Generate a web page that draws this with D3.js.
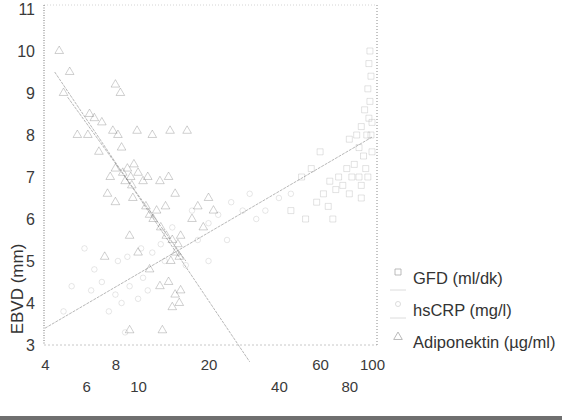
<!DOCTYPE html>
<html>
<head>
<meta charset="utf-8">
<script src="https://cdn.jsdelivr.net/npm/d3@7"></script>
<style>
  body { margin: 0; background: #fff; }
  svg { display: block; font-family: "Liberation Sans", Arial, sans-serif; }
</style>
</head>
<body>
<div id="chart"></div>
<script>
// x tick labels (log axis), y tick labels
const xTicks = [4, 6, 8, 10, 20, 40, 60, 80, 100];
const xTicksLower = [6, 10, 40, 80]; // printed on the second row
const yTicks = [3, 4, 5, 6, 7, 8, 9, 10, 11];

// GFD (ml/dk) - squares
const gfdX = [98, 97, 99, 96, 98, 93, 97, 100, 90, 95, 86, 80, 88, 92, 84, 78, 94, 72, 82, 88, 96, 66, 75, 70, 62, 80, 58, 65, 90, 55, 60, 50, 45, 52, 68, 90, 100, 99];
const gfdY = [10.0, 9.7, 9.4, 9.1, 8.8, 8.6, 8.4, 8.3, 8.2, 8.0, 8.0, 7.9, 7.7, 7.5, 7.3, 7.2, 7.2, 7.0, 7.0, 7.0, 7.0, 6.9, 6.8, 6.7, 6.6, 6.6, 6.4, 6.3, 6.5, 7.2, 7.6, 7.0, 6.2, 6.0, 6.0, 6.8, 7.6, 8.0];

// hsCRP (mg/l) - small circles
const crpX = [5.9, 6.3, 7.0, 8.0, 8.5, 9.2, 10.0, 10.5, 11, 8.2, 9.0, 10.3, 11.5, 12.5, 13, 16, 18, 20, 22, 25, 28, 30, 32, 35, 40, 45, 7.5, 8.8, 6.5, 5.2, 4.8, 14, 17, 24, 20];
const crpY = [5.3, 4.3, 4.5, 4.2, 4.0, 4.4, 4.1, 4.6, 4.3, 5.0, 5.1, 5.3, 5.2, 5.4, 5.0, 4.9, 5.5, 5.9, 6.1, 6.4, 6.2, 6.6, 6.0, 6.2, 6.5, 6.6, 3.8, 3.3, 4.8, 4.4, 3.8, 5.8, 6.2, 5.5, 5.0];

// Adiponektin (µg/ml) - triangles
const adipoX = [4.6, 5.1, 4.8, 8.0, 8.4, 6.5, 6.2, 7.0, 5.5, 6.1, 7.8, 8.2, 9.9, 11.5, 13.7, 16.2, 6.8, 8.5, 7.6, 8.0, 8.6, 9.0, 9.3, 9.6, 10.0, 8.8, 9.4, 10.5, 11.0, 12.4, 13.5, 7.4, 8.0, 9.5, 10.8, 11.2, 11.6, 12.0, 13.1, 14.4, 12.5, 13.2, 14.0, 14.8, 15.2, 14.5, 15.0, 13.8, 10.0, 9.2, 7.2, 11.2, 12.4, 13.5, 14.4, 15.0, 14.0, 15.2, 12.7, 9.2, 17, 18, 20, 21, 19];
const adipoY = [10.0, 9.5, 9.0, 9.2, 9.0, 8.4, 8.5, 8.3, 8.0, 8.0, 8.1, 8.0, 8.1, 8.0, 8.1, 8.1, 7.6, 7.7, 7.0, 7.2, 7.1, 7.2, 7.0, 7.3, 7.1, 6.9, 6.8, 6.9, 7.0, 6.9, 7.0, 6.6, 6.4, 6.5, 6.3, 6.1, 6.0, 6.2, 6.3, 6.6, 5.8, 5.6, 5.5, 5.4, 5.6, 5.2, 5.1, 5.0, 5.2, 5.6, 5.1, 4.8, 4.4, 4.5, 4.2, 4.0, 3.9, 4.3, 3.35, 3.35, 6.0, 6.3, 6.5, 6.2, 5.8];

// fit lines (end points)
const gfdFitX = [4, 100], gfdFitY = [3.4, 7.95];
const crpFitX = [5.0, 16], crpFitY = [8.9, 5.0];
const adipoFitX = [4.4, 30], adipoFitY = [9.5, 2.6];

const legendLabels = ["GFD (ml/dk)", "hsCRP (mg/l)", "Adiponektin (µg/ml)"];

const width = 562, height = 420;
const svg = d3.select("#chart").append("svg")
  .attr("width", width)
  .attr("height", height);

const x = d3.scaleLog().domain([4, 100]).range([45, 372]);
const y = d3.scaleLinear().domain([3, 11]).range([345, 9]);

// dotted plot frame
const frame = { left: 44, right: 377, top: 5, bottom: 345 };
svg.append("line").attr("x1", frame.left).attr("x2", frame.right).attr("y1", frame.top).attr("y2", frame.top)
  .attr("stroke", "#d4d4d4").attr("stroke-dasharray", "1,2");
svg.append("line").attr("x1", frame.left).attr("x2", frame.right).attr("y1", frame.bottom).attr("y2", frame.bottom)
  .attr("stroke", "#c8c8c8").attr("stroke-dasharray", "2,2");
svg.append("line").attr("x1", frame.right).attr("x2", frame.right).attr("y1", frame.top).attr("y2", frame.bottom)
  .attr("stroke", "#8a8a8a").attr("stroke-dasharray", "1,2");

// y axis (dotted line, labels on the left)
const yAxis = svg.append("g")
  .attr("transform", `translate(${frame.left},0)`)
  .call(d3.axisLeft(y).tickValues(yTicks).tickSize(0).tickPadding(9).tickFormat(d3.format("d")));
yAxis.select(".domain").attr("stroke", "#777").attr("stroke-dasharray", "1,1.5")
  .attr("d", `M0,${frame.top}V${frame.bottom}`);
yAxis.selectAll("text").attr("font-size", 16).attr("fill", "#3a3a3a")
  .attr("font-family", "Liberation Sans, Arial, sans-serif");

// x axis: labels only, staggered in two rows
const xAxis = svg.append("g")
  .attr("transform", `translate(0,${frame.bottom})`)
  .call(d3.axisBottom(x).tickValues(xTicks).tickSize(0).tickPadding(14).tickFormat(d3.format("d")));
xAxis.select(".domain").remove();
xAxis.selectAll("text")
  .attr("font-size", 15).attr("fill", "#3a3a3a")
  .attr("font-family", "Liberation Sans, Arial, sans-serif")
  .attr("y", d => xTicksLower.includes(d) ? 36 : 14);

// y axis title
svg.append("text")
  .attr("transform", "translate(23,289) rotate(-90)")
  .attr("text-anchor", "middle")
  .attr("font-size", 17)
  .attr("fill", "#333")
  .text("EBVD (mm)");

// fit lines
const fitLine = d3.line().x(d => x(d[0])).y(d => y(d[1]));
[[gfdFitX, gfdFitY], [crpFitX, crpFitY], [adipoFitX, adipoFitY]].forEach(([fx, fy]) => {
  svg.append("path")
    .attr("d", fitLine(d3.zip(fx, fy)))
    .attr("fill", "none")
    .attr("stroke", "#b8b8b8")
    .attr("stroke-width", 1)
    .attr("stroke-dasharray", "3,1");
});

// scatter points
svg.append("g").selectAll("path")
  .data(d3.zip(gfdX, gfdY))
  .join("path")
  .attr("transform", d => `translate(${x(d[0])},${y(d[1])})`)
  .attr("d", d3.symbol(d3.symbolSquare, 36))
  .attr("fill", "none").attr("stroke", "#888").attr("stroke-width", 0.8).attr("opacity", 0.3);

svg.append("g").selectAll("path")
  .data(d3.zip(crpX, crpY))
  .join("path")
  .attr("transform", d => `translate(${x(d[0])},${y(d[1])})`)
  .attr("d", d3.symbol(d3.symbolCircle, 24))
  .attr("fill", "none").attr("stroke", "#888").attr("stroke-width", 0.8).attr("opacity", 0.25);

svg.append("g").selectAll("path")
  .data(d3.zip(adipoX, adipoY))
  .join("path")
  .attr("transform", d => `translate(${x(d[0])},${y(d[1])})`)
  .attr("d", d3.symbol(d3.symbolTriangle, 32))
  .attr("fill", "none").attr("stroke", "#555").attr("stroke-width", 0.8).attr("opacity", 0.35);

// legend
const legend = svg.append("g");
const legendY = [278, 310, 342];
legend.selectAll("text")
  .data(legendLabels)
  .join("text")
  .attr("x", 413)
  .attr("y", (d, i) => legendY[i] + 6)
  .attr("font-size", 16.5)
  .attr("fill", "#333")
  .text(d => d);

legend.append("path").attr("transform", "translate(398,272)")
  .attr("d", d3.symbol(d3.symbolSquare, 36))
  .attr("fill", "none").attr("stroke", "#aaa").attr("stroke-width", 0.8);
legend.append("path").attr("transform", "translate(398,304)")
  .attr("d", d3.symbol(d3.symbolCircle, 20))
  .attr("fill", "none").attr("stroke", "#d4d4d4").attr("stroke-width", 0.8);
legend.append("path").attr("transform", "translate(398,337)")
  .attr("d", d3.symbol(d3.symbolTriangle, 32))
  .attr("fill", "none").attr("stroke", "#aaa").attr("stroke-width", 0.8);
[290, 318].forEach(ly => {
  legend.append("line").attr("x1", 390).attr("x2", 406).attr("y1", ly).attr("y2", ly)
    .attr("stroke", "#dcdcdc").attr("stroke-width", 1);
});

// dark scan edge at the bottom
svg.append("rect").attr("x", 0).attr("y", 416).attr("width", width).attr("height", 4).attr("fill", "#6f6f6f");
</script>
</body>
</html>
